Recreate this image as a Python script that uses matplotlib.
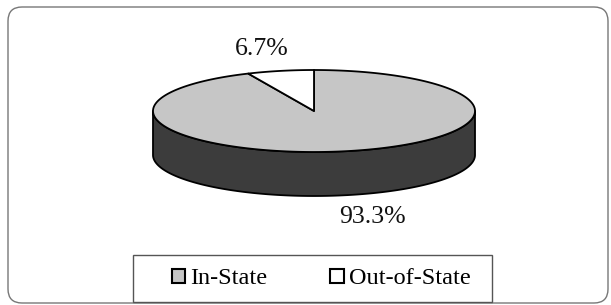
import numpy as np
import matplotlib.pyplot as plt
from matplotlib.patches import Polygon, FancyBboxPatch, Patch, Rectangle

labels = ['In-State', 'Out-of-State']
shares = [93.3, 6.7]
pct_text = ['93.3%', '6.7%']
label_pos = [(372, 217), (262, 49)]
face_cols = ['#c6c6c6', '#ffffff']
side_cols = ['#3c3c3c', '#d8d8d8']

plt.rcParams['font.family'] = ['Liberation Serif', 'DejaVu Serif']

fig = plt.figure(figsize=(6.11, 3.05), dpi=100)
ax = fig.add_axes([0, 0, 1, 1])
ax.set_xlim(0, 611)
ax.set_ylim(305, 0)
ax.axis('off')

# outer rounded frame
ax.add_patch(FancyBboxPatch((8, 7), 600, 296, boxstyle='round,pad=0,rounding_size=14',
                            ec='#777777', fc='white', lw=1.0))

cx, cy, a, b, depth = 314, 111, 161, 41, 44


def pt(t):
    # t in degrees, clockwise from 12 o'clock
    r = np.radians(t)
    return cx + a * np.sin(r), cy - b * np.cos(r)


edges = np.concatenate([[0], np.cumsum(shares) / sum(shares) * 360])

# side walls (front half only)
for i in range(len(shares)):
    t0, t1 = max(edges[i], 90), min(edges[i + 1], 270)
    if t1 <= t0:
        continue
    t = np.linspace(t0, t1, 200)
    x, y = pt(t)
    xs = np.concatenate([x, x[::-1]])
    ys = np.concatenate([y, y[::-1] + depth])
    ax.add_patch(Polygon(np.column_stack([xs, ys]), closed=True,
                         fc=side_cols[i], ec='black', lw=1.3, joinstyle='round'))

# top faces
for i in range(len(shares)):
    t = np.linspace(edges[i], edges[i + 1], 300)
    x, y = pt(t)
    pts = [(cx, cy)] + list(zip(x, y))
    ax.add_patch(Polygon(pts, closed=True, fc=face_cols[i], ec='black',
                         lw=1.3, joinstyle='round'))

for txt, (px, py) in zip(pct_text, label_pos):
    ax.text(px, py, txt, ha='center', va='center', fontsize=18.5, color='#111111')

# legend frame
ax.add_patch(Rectangle((133, 255), 359, 47, fc='white', ec='#555555', lw=1.0))

handles = [Patch(fc=face_cols[i], ec='black', lw=1.5) for i in range(len(labels))]
leg = fig.legend(handles, labels, ncol=2, loc='center',
                 bbox_to_anchor=(321 / 611, 1 - 279 / 305),
                 fontsize=17.5, frameon=False,
                 handlelength=0.55, handleheight=0.55, handletextpad=0.2,
                 columnspacing=2.6, borderpad=0.3)

fig.savefig('out.png', dpi=100)
